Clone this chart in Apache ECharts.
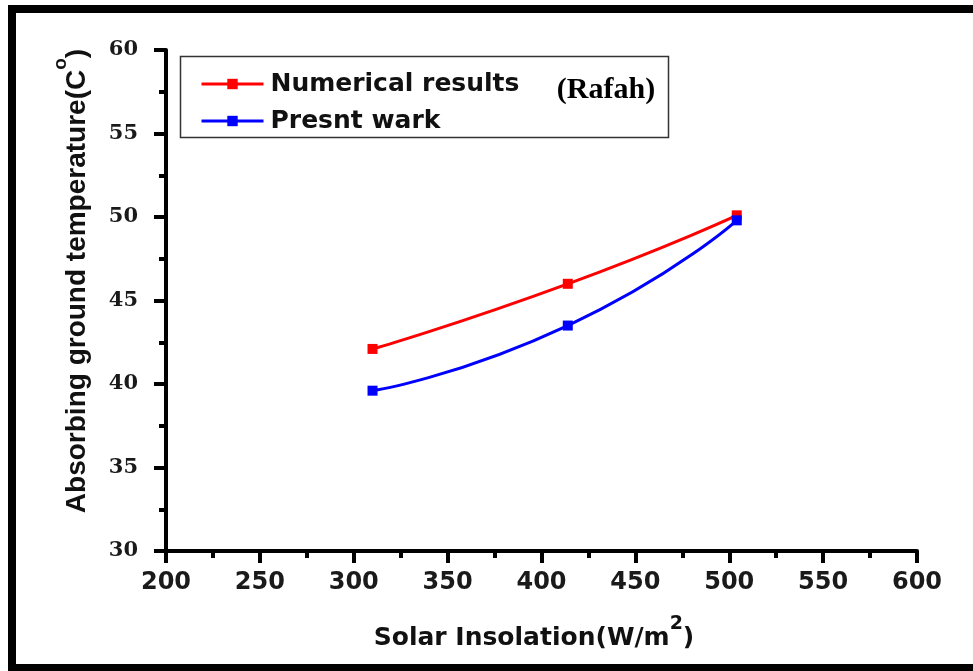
<!DOCTYPE html>
<html>
<head>
<meta charset="utf-8">
<title>Absorbing ground temperature vs solar insolation (Rafah)</title>
<script src="https://cdn.jsdelivr.net/npm/echarts@6/dist/echarts.min.js"></script>
<style>
  html, body { margin: 0; padding: 0; background: #fff; }
  #chart { width: 973px; height: 671px; }
</style>
</head>
<body>
<div id="chart"></div>
<script>
// Solar insolation (W/m2) at the three measuring points
const insolation = [310, 414, 504];
// Absorbing ground temperature (deg C)
const numericalResults = [42.1, 46.0, 50.1];
const presentWork = [39.6, 43.5, 49.8];

const seriesNames = ['Numerical results', 'Presnt wark'];
const xTicks = { min: 200, max: 600, step: 50 };
const yTicks = { min: 30, max: 60, step: 5 };

const chart = echarts.init(document.getElementById('chart'), null, { renderer: 'canvas' });

const pairs = (xs, ys) => xs.map((x, i) => [x, ys[i]]);

const axisCommon = {
  axisLine: { show: true, onZero: false, lineStyle: { color: '#000', width: 4 } },
  axisTick: { show: true, inside: false, length: 12, lineStyle: { color: '#000', width: 4 } },
  minorTick: { show: true, splitNumber: 2, length: 7, lineStyle: { color: '#000', width: 4 } },
  splitLine: { show: false },
  minorSplitLine: { show: false }
};

const sansTitle = '"Liberation Sans", Arial, sans-serif';

chart.setOption({
  backgroundColor: '#ffffff',
  animation: false,
  grid: { left: 166, right: 56, top: 50, bottom: 120, containLabel: false },
  xAxis: Object.assign({
    type: 'value',
    min: xTicks.min, max: xTicks.max, interval: xTicks.step,
    axisLabel: {
      margin: 20,
      color: '#1a1a1a',
      fontFamily: 'DejaVu Sans', fontWeight: 'bold', fontSize: 24
    }
  }, axisCommon),
  yAxis: Object.assign({
    type: 'value',
    min: yTicks.min, max: yTicks.max, interval: yTicks.step,
    axisLabel: {
      margin: 28,
      color: '#1a1a1a',
      fontFamily: 'DejaVu Serif', fontWeight: 'bold', fontSize: 21
    }
  }, axisCommon),
  legend: {
    show: true,
    z: 20,
    orient: 'vertical',
    left: 200, top: 71,
    padding: 0,
    itemWidth: 62, itemHeight: 13,
    itemGap: 11,
    data: seriesNames,
    lineStyle: { width: 3 },
    textStyle: {
      color: '#111',
      fontFamily: 'DejaVu Sans', fontWeight: 'bold', fontSize: 25,
      lineHeight: 26,
      padding: [0, 0, 0, 2]
    }
  },
  graphic: [
    // outer frame
    { type: 'rect', z: 100, silent: true,
      shape: { x: 12, y: 9, width: 1000, height: 659 },
      style: { fill: 'none', stroke: '#000', lineWidth: 8 } },
    // legend box
    { type: 'rect', z: 0, silent: true,
      shape: { x: 180.5, y: 56.5, width: 488, height: 81 },
      style: { fill: 'none', stroke: '#333', lineWidth: 1.5 } },
    { type: 'text', z: 50, silent: true,
      x: 606, y: 90,
      style: {
        text: '(Rafah)', fill: '#000',
        font: 'bold 30px "Liberation Serif", "Times New Roman", serif',
        align: 'center', verticalAlign: 'middle'
      } },
    // y axis title
    { type: 'text', z: 50, silent: true,
      x: 71, y: 281, rotation: Math.PI / 2,
      style: {
        text: '{b|Absorbing ground temperature(C}{sup|o}{b|)}',
        fill: '#111',
        align: 'center', verticalAlign: 'middle',
        rich: {
          b: { font: 'bold 28px ' + sansTitle, fill: '#111', lineHeight: 40, verticalAlign: 'bottom' },
          sup: { font: 'bold 19px ' + sansTitle, fill: '#111', lineHeight: 28, verticalAlign: 'top' }
        }
      } },
    // x axis title
    { type: 'text', z: 50, silent: true,
      x: 534, y: 633,
      style: {
        text: '{b|Solar Insolation(W/m}{sup|2}{b|)}',
        fill: '#111',
        align: 'center', verticalAlign: 'middle',
        rich: {
          b: { font: 'bold 25px "DejaVu Sans", sans-serif', fill: '#111', lineHeight: 36, verticalAlign: 'bottom' },
          sup: { font: 'bold 19px "DejaVu Sans", sans-serif', fill: '#111', lineHeight: 26, verticalAlign: 'top' }
        }
      } }
  ],
  series: [
    {
      name: seriesNames[0],
      type: 'line',
      data: pairs(insolation, numericalResults),
      smooth: 0.6,
      symbol: 'rect', symbolSize: 10,
      color: '#ff0000',
      itemStyle: { color: '#ff0000' },
      lineStyle: { color: '#ff0000', width: 3 },
      z: 10
    },
    {
      name: seriesNames[1],
      type: 'line',
      data: pairs(insolation, presentWork),
      smooth: 0.6,
      symbol: 'rect', symbolSize: 10,
      color: '#0000ff',
      itemStyle: { color: '#0000ff' },
      lineStyle: { color: '#0000ff', width: 3 },
      z: 11
    }
  ]
});
</script>
</body>
</html>
